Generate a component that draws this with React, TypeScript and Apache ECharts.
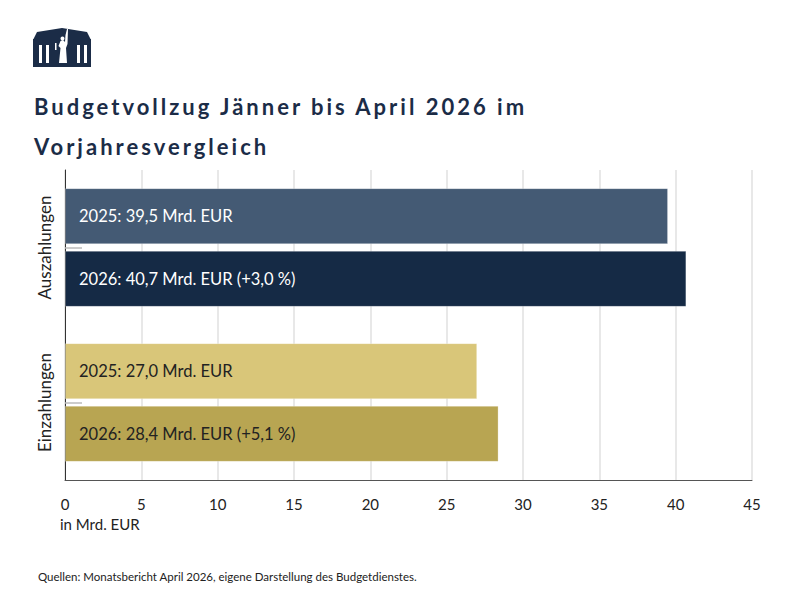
import React, { useEffect, useRef } from "react";
import * as echarts from "echarts";

// Budget execution January–April, previous-year comparison (bn EUR)
const categories = ["Auszahlungen", "Einzahlungen"];
const years = ["2025", "2026"];
const values2025 = [39.5, 27.0];
const values2026 = [40.7, 28.4];
const changes2026 = [3.0, 5.1]; // % change vs. previous year
const xTicks = [0, 45, 5]; // min, max, interval

const barColors2025 = ["#445a74", "#d9c679"];
const barColors2026 = ["#152a45", "#b8a552"];
const labelColors = ["#ffffff", "#222222"];

const NAVY = "#1b2c47";
const FONT = "Lato, 'Noto Sans', sans-serif";
const TITLE_LINES = ["Budgetvollzug Jänner bis April 2026 im", "Vorjahresvergleich"];

const fmt = (v: number) => v.toFixed(1).replace(".", ",");

function makeSeries(name: string, values: number[], colors: string[], withChange: boolean) {
  return {
    name,
    type: "bar",
    barWidth: 56,
    barGap: "12%",
    data: values.map((v, i) => ({
      value: v,
      itemStyle: { color: colors[i], borderColor: "rgba(255,255,255,0.25)", borderWidth: 1 },
      label: { color: labelColors[i] },
    })),
    label: {
      show: true,
      position: "insideLeft",
      distance: 14,
      fontFamily: FONT,
      fontSize: 16.5,
      formatter: (p: any) => {
        const base = `${name}: ${fmt(p.value)} Mrd. EUR`;
        if (!withChange) return base;
        const c = changes2026[p.dataIndex];
        return `${base} (${c >= 0 ? "+" : ""}${fmt(c)} %)`;
      },
    },
  };
}

// Parliament building emblem
function logo() {
  const c = NAVY;
  const w = "#ffffff";
  return {
    type: "group",
    children: [
      { type: "polygon", shape: { points: [[33, 40], [37, 32], [62, 28], [87, 32], [91, 40]] }, style: { fill: c } },
      { type: "rect", shape: { x: 33, y: 39, width: 58, height: 28 }, style: { fill: c } },
      { type: "rect", shape: { x: 39, y: 45, width: 3, height: 18 }, style: { fill: w } },
      { type: "rect", shape: { x: 46, y: 45, width: 3, height: 18 }, style: { fill: w } },
      { type: "rect", shape: { x: 77, y: 45, width: 3, height: 18 }, style: { fill: w } },
      { type: "rect", shape: { x: 84, y: 45, width: 3, height: 18 }, style: { fill: w } },
      // statue
      { type: "polygon", shape: { points: [[59, 63], [60.5, 48], [58.5, 46], [60.5, 41], [63, 40], [65, 42], [65.5, 35], [67, 29], [68, 29], [67.5, 44], [66, 48], [67, 63]] }, style: { fill: w } },
      { type: "circle", shape: { cx: 62.5, cy: 38.5, r: 2 }, style: { fill: w } },
      { type: "rect", shape: { x: 55, y: 43, width: 1.5, height: 7 }, style: { fill: w } },
    ],
  };
}

export default function App() {
  const ref = useRef<HTMLDivElement>(null);

  useEffect(() => {
    if (!ref.current) return;
    const chart = echarts.init(ref.current, undefined, { renderer: "svg" });
    // widen the tracking of the headline
    const track = () => {
      const svg = ref.current?.querySelector("svg");
      if (!svg) return;
      svg.querySelectorAll("text").forEach((t) => {
        const s = t.textContent || "";
        if (TITLE_LINES.includes(s)) {
          t.setAttribute("letter-spacing", "3");
          (t as SVGTextElement).style.letterSpacing = "3px";
        }
      });
    };
    chart.on("finished", track);
    chart.setOption({
      animation: false,
      backgroundColor: "#ffffff",
      textStyle: { fontFamily: FONT },
      grid: { left: 65, right: 48, top: 170, bottom: 120 },
      xAxis: {
        type: "value",
        min: xTicks[0],
        max: xTicks[1],
        interval: xTicks[2],
        axisLine: { show: true, lineStyle: { color: "#555", width: 1 } },
        axisTick: { show: false },
        axisLabel: { color: "#222", fontSize: 15, margin: 16, fontFamily: FONT },
        splitLine: { show: true, lineStyle: { color: "#e0e0e0", width: 1.5 } },
      },
      yAxis: {
        type: "category",
        inverse: true,
        data: categories,
        axisLine: { show: true, lineStyle: { color: "#333", width: 1 } },
        axisTick: { show: true, inside: true, alignWithLabel: true, length: 17, lineStyle: { color: "#bbbbbb", width: 1.5 } },
        axisLabel: { rotate: 90, color: "#222", fontSize: 17, margin: 12, fontFamily: FONT },
      },
      series: [
        makeSeries(years[0], values2025, barColors2025, false),
        makeSeries(years[1], values2026, barColors2026, true),
      ],
      graphic: [
        logo(),
        {
          type: "text",
          left: 34,
          top: 95,
          style: { text: TITLE_LINES[0], fill: NAVY, fontFamily: FONT, fontWeight: "bold", fontSize: 22 },
        },
        {
          type: "text",
          left: 34,
          top: 135,
          style: { text: TITLE_LINES[1], fill: NAVY, fontFamily: FONT, fontWeight: "bold", fontSize: 22 },
        },
        {
          type: "text",
          left: 60,
          top: 516,
          style: { text: "in Mrd. EUR", fill: "#222", fontFamily: FONT, fontSize: 15 },
        },
        {
          type: "text",
          left: 38,
          top: 570,
          style: { text: "Quellen: Monatsbericht April 2026, eigene Darstellung des Budgetdienstes.", fill: "#222", fontFamily: FONT, fontSize: 11.5 },
        },
      ],
    });
    track();
    const timer = setTimeout(track, 0);
    return () => {
      clearTimeout(timer);
      chart.dispose();
    };
  }, []);

  return <div ref={ref} style={{ width: 800, height: 600, position: "absolute", left: 0, top: 0 }} />;
}
